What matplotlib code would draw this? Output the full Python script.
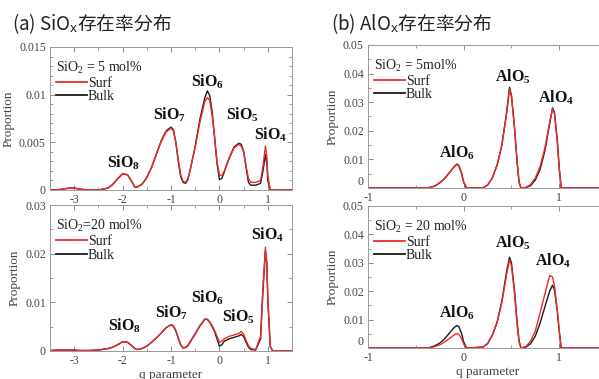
import matplotlib
matplotlib.use('Agg')
import matplotlib.pyplot as plt
from matplotlib.lines import Line2D
from matplotlib.ticker import MultipleLocator

plt.rcParams['font.family'] = ['Liberation Serif', 'DejaVu Sans']
plt.rcParams['mathtext.fontset'] = 'custom'
plt.rcParams['mathtext.rm'] = 'Liberation Serif'
plt.rcParams['mathtext.it'] = 'Liberation Serif:italic'
plt.rcParams['mathtext.bf'] = 'Liberation Serif:bold'
plt.rcParams['mathtext.sf'] = 'Noto Sans'

# ---- data ----
q_si = [-3.5, -3.3, -3.1, -3.0, -2.9, -2.7, -2.5, -2.3,
        -2.2, -2.1, -2.0, -1.9, -1.8, -1.75, -1.7, -1.6,
        -1.5, -1.4, -1.3, -1.2, -1.1, -1.0, -0.95, -0.9,
        -0.85, -0.8, -0.75, -0.7, -0.65, -0.6, -0.5, -0.4,
        -0.3, -0.25, -0.2, -0.15, -0.1, -0.05, 0.0, 0.05,
        0.1, 0.2, 0.3, 0.4, 0.45, 0.5, 0.55, 0.6,
        0.65, 0.75, 0.85, 0.9, 0.95, 0.98, 1.0, 1.05,
        1.1, 1.5]

si_surf_5 = [0, 0.00005, 0.0002, 0.0002, 0.0001, 0.0, 0.0, 0.0002,
             0.0006, 0.0012, 0.0017, 0.0016, 0.0008, 0.0003, 0.0003, 0.0006,
             0.0013, 0.0024, 0.0038, 0.0051, 0.0061, 0.0065, 0.0062, 0.005,
             0.0032, 0.0016, 0.0009, 0.0008, 0.0012, 0.0022, 0.0045, 0.0072,
             0.0093, 0.0097, 0.0094, 0.0078, 0.0055, 0.003, 0.0016, 0.0015,
             0.002, 0.0033, 0.0044, 0.0048, 0.0046, 0.004, 0.0025, 0.0012,
             0.0008, 0.0008, 0.001, 0.0025, 0.0046, 0.0035, 0.0015, 0.0,
             0.0, 0.0]
si_bulk_5 = [0, 0.00005, 0.0002, 0.0002, 0.0001, 0.0, 0.0, 0.0002,
             0.0006, 0.0012, 0.0017, 0.0016, 0.0008, 0.0003, 0.0003, 0.0006,
             0.0013, 0.0024, 0.0038, 0.0052, 0.0062, 0.0066, 0.0063, 0.005,
             0.003, 0.0014, 0.0008, 0.0007, 0.0011, 0.0022, 0.0046, 0.0075,
             0.0097, 0.0104, 0.0099, 0.0082, 0.0056, 0.0028, 0.0011, 0.0012,
             0.0019, 0.0033, 0.0045, 0.0049, 0.0048, 0.0041, 0.0024, 0.0008,
             0.0005, 0.0005, 0.0007, 0.002, 0.0037, 0.0028, 0.001, 0.0,
             0.0, 0.0]

si_surf_20 = [0.0001, 0.0002, 0.0002, 0.0002, 0.0001, 0.0001, 0.0002, 0.0005,
              0.0008, 0.0013, 0.0019, 0.0018, 0.001, 0.0005, 0.0003, 0.0005,
              0.001, 0.0018, 0.0027, 0.0037, 0.0048, 0.0054, 0.0052, 0.0042,
              0.0027, 0.0013, 0.0007, 0.0008, 0.0012, 0.002, 0.0036, 0.0053,
              0.0066, 0.0065, 0.006, 0.0052, 0.0042, 0.003, 0.0018, 0.002,
              0.0025, 0.003, 0.0033, 0.0036, 0.004, 0.0035, 0.0022, 0.0011,
              0.0005, 0.0003, 0.003, 0.013, 0.0213, 0.018, 0.011, 0.001,
              0.0, 0.0]
si_bulk_20 = [0.0001, 0.0002, 0.0002, 0.0002, 0.0001, 0.0001, 0.0002, 0.0005,
              0.0008, 0.0013, 0.0019, 0.0018, 0.001, 0.0005, 0.0003, 0.0005,
              0.001, 0.0018, 0.0027, 0.0037, 0.0048, 0.0054, 0.0051, 0.0041,
              0.0026, 0.0012, 0.0006, 0.0007, 0.0011, 0.0019, 0.0035, 0.0052,
              0.0065, 0.0065, 0.0059, 0.005, 0.004, 0.0025, 0.001, 0.0013,
              0.002, 0.0025, 0.0028, 0.0031, 0.0034, 0.003, 0.0018, 0.0008,
              0.0003, 0.0002, 0.0025, 0.0125, 0.0207, 0.0178, 0.0105, 0.001,
              0.0, 0.0]

q_al = [-1.0, -0.4, -0.35, -0.3, -0.25, -0.2, -0.15, -0.1, -0.07, -0.05,
        -0.02, 0.0, 0.03, 0.2, 0.25, 0.3, 0.35, 0.4, 0.45, 0.48,
        0.5, 0.53, 0.56, 0.58, 0.6, 0.65, 0.7, 0.75, 0.8, 0.85,
        0.9, 0.93, 0.95, 0.98, 1.0, 1.02, 1.5]

al_surf_5 = [0, 0, 0.0002, 0.0007, 0.0018, 0.0033, 0.0053, 0.0073, 0.0082, 0.0078,
             0.005, 0.0022, 0.0, 0.0, 0.001, 0.0035, 0.008, 0.015, 0.026, 0.0345,
             0.032, 0.022, 0.009, 0.002, 0.0, 0.0002, 0.0012, 0.0035, 0.0075, 0.014,
             0.023, 0.0277, 0.026, 0.016, 0.007, 0.0, 0]
al_bulk_5 = [0, 0, 0.0002, 0.0007, 0.0018, 0.0033, 0.0053, 0.0074, 0.0084, 0.0079,
             0.005, 0.0021, 0.0, 0.0, 0.001, 0.0035, 0.008, 0.015, 0.0265, 0.0352,
             0.0325, 0.022, 0.009, 0.002, 0.0, 0.0001, 0.0008, 0.0028, 0.0065, 0.013,
             0.0225, 0.028, 0.0265, 0.0165, 0.007, 0.0, 0]

al_surf_20 = [0, 0, 0.0001, 0.0005, 0.0011, 0.0021, 0.0033, 0.0046, 0.0051, 0.0048,
              0.0032, 0.0014, 0.0, 0.0003, 0.0015, 0.0045, 0.009, 0.016, 0.026, 0.031,
              0.029, 0.02, 0.008, 0.002, 0.0, 0.0005, 0.0024, 0.006, 0.0124, 0.019,
              0.0255, 0.025, 0.022, 0.013, 0.006, 0.0, 0]
al_bulk_20 = [0, 0, 0.0002, 0.0008, 0.0017, 0.0032, 0.0052, 0.0072, 0.0079, 0.0075,
              0.005, 0.0022, 0.0, 0.0003, 0.0015, 0.0045, 0.009, 0.0165, 0.027, 0.032,
              0.03, 0.021, 0.009, 0.0025, 0.0, 0.0003, 0.0015, 0.0042, 0.0088, 0.0145,
              0.02, 0.0221, 0.0205, 0.013, 0.006, 0.0, 0]

si_labels = ['SiO$_\\mathbf{8}$', 'SiO$_\\mathbf{7}$', 'SiO$_\\mathbf{6}$', 'SiO$_\\mathbf{5}$', 'SiO$_\\mathbf{4}$']
si_label_q_5 = [-1.97, -1.03, -0.25, 0.48, 1.06]
si_label_y_5 = [0.0029, 0.0079, 0.0114, 0.0079, 0.0058]
si_label_q_20 = [-1.95, -0.99, -0.25, 0.40, 1.0]
si_label_y_20 = [0.0051, 0.0078, 0.0109, 0.0070, 0.0238]

al_labels = ['AlO$_\\mathbf{6}$', 'AlO$_\\mathbf{5}$', 'AlO$_\\mathbf{4}$']
al_label_q_5 = [-0.07, 0.51, 0.97]
al_label_y_5 = [0.0122, 0.0388, 0.0315]
al_label_q_20 = [-0.07, 0.51, 0.93]
al_label_y_20 = [0.0123, 0.0370, 0.0306]

si_xticks = [-3, -2, -1, 0, 1]
al_xticks = [-1, 0, 1]

RED = '#ee2a2a'
BLACK = '#1a1a1a'
GRAY = '#444444'

fig = plt.figure(figsize=(5.99, 3.79), dpi=100)
ax1 = fig.add_axes([0.0835, 0.4987, 0.404, 0.3773])
ax2 = fig.add_axes([0.0835, 0.0739, 0.404, 0.3852])
ax3 = fig.add_axes([0.6144, 0.5040, 0.3990, 0.3773])
ax4 = fig.add_axes([0.6144, 0.0818, 0.3990, 0.3747])


def style(ax, xlim, ylim, xticks, yticks, yminor):
    ax.set_xlim(*xlim)
    ax.set_ylim(*ylim)
    ax.set_xticks(xticks)
    ax.set_xticklabels([str(t) for t in xticks])
    ax.set_yticks(yticks)
    ax.set_yticklabels(['%g' % t for t in yticks])
    ax.xaxis.set_minor_locator(MultipleLocator(0.5))
    ax.yaxis.set_minor_locator(MultipleLocator(yminor))
    ax.tick_params(which='both', direction='in', top=True, right=True,
                   colors='#777777', labelcolor=GRAY, labelsize=8.5)
    ax.tick_params(axis='x', pad=3)
    ax.tick_params(axis='y', pad=3)
    ax.tick_params(which='major', length=3.5, width=0.6)
    ax.tick_params(which='minor', length=2, width=0.5)
    for s in ax.spines.values():
        s.set_color('#999999')
        s.set_linewidth(0.7)
    ax.set_ylabel('Proportion', fontsize=9.5, color=GRAY, labelpad=3)


def curves(ax, q, surf, bulk, header):
    ax.plot(q, bulk, color=BLACK, lw=1.0)
    ax.plot(q, surf, color=RED, lw=1.0)
    handles = [Line2D([], [], color=RED, lw=1.3), Line2D([], [], color=BLACK, lw=1.3)]
    leg = ax.legend(handles, ['Surf', 'Bulk'], title=header, loc='upper left',
                    bbox_to_anchor=(0.025, 0.91), frameon=False, fontsize=10,
                    title_fontsize=10, handlelength=2.2, handletextpad=0.1,
                    labelspacing=0.05, borderpad=0, borderaxespad=0,
                    alignment='left')
    for t in leg.get_texts():
        t.set_color('#222222')
    leg.get_title().set_color('#222222')


def peak_labels(ax, labels, qs, ys):
    for lab, x, y in zip(labels, qs, ys):
        ax.text(x, y, lab, ha='center', va='center', fontsize=11.5,
                fontweight='bold', color='#111111')


style(ax1, (-3.5, 1.5), (0, 0.015), si_xticks, [0, 0.005, 0.01, 0.015], 0.001)
curves(ax1, q_si, si_surf_5, si_bulk_5, 'SiO$_2$ = 5 mol%')
peak_labels(ax1, si_labels, si_label_q_5, si_label_y_5)

style(ax2, (-3.5, 1.5), (0, 0.03), si_xticks, [0, 0.01, 0.02, 0.03], 0.005)
curves(ax2, q_si, si_surf_20, si_bulk_20, 'SiO$_2$=20 mol%')
peak_labels(ax2, si_labels, si_label_q_20, si_label_y_20)
ax2.set_xlabel('q parameter', fontsize=9.5, color=GRAY, labelpad=1)

style(ax3, (-1, 1.5), (0, 0.05), al_xticks, [0, 0.01, 0.02, 0.03, 0.04, 0.05], 0.005)
curves(ax3, q_al, al_surf_5, al_bulk_5, 'SiO$_2$ = 5mol%')
peak_labels(ax3, al_labels, al_label_q_5, al_label_y_5)

style(ax4, (-1, 1.5), (0, 0.05), al_xticks, [0, 0.01, 0.02, 0.03, 0.04, 0.05], 0.005)
curves(ax4, q_al, al_surf_20, al_bulk_20, 'SiO$_2$ = 20 mol%')
peak_labels(ax4, al_labels, al_label_q_20, al_label_y_20)
ax4.set_xlabel('q parameter', fontsize=9.5, color=GRAY, labelpad=1)

# keep the "0" y label and "-1" x label of the right panels apart
for ax in (ax3, ax4):
    ax.get_yticklabels()[0].set_verticalalignment('bottom')

cjk = ['Noto Sans CJK JP', 'DejaVu Sans']
fig.text(0.02, 0.937, '(a) SiO$_\\mathsf{x}$存在率分布', fontsize=13.5, family=cjk,
         color='#222222', va='center')
fig.text(0.553, 0.937, '(b) AlO$_\\mathsf{x}$存在率分布', fontsize=13.5, family=cjk,
         color='#222222', va='center')

fig.savefig('out.png', dpi=100)
